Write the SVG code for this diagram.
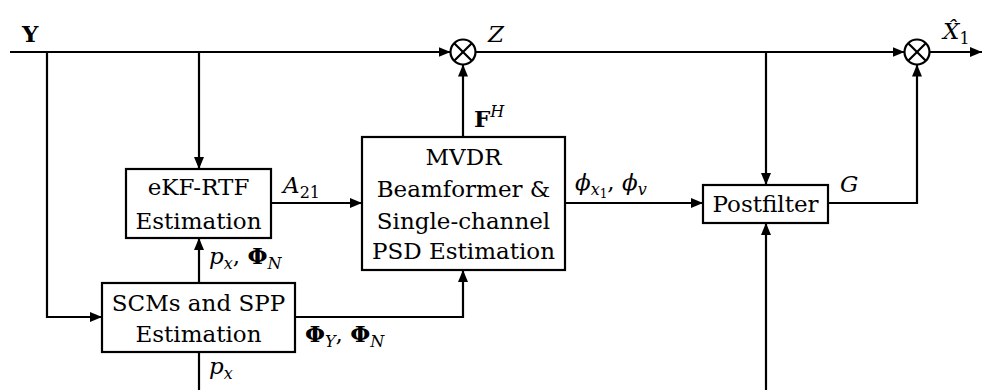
<svg xmlns="http://www.w3.org/2000/svg" width="982" height="390" viewBox="0 0 982 390">
<style>
.ln{fill:none;stroke:#000;stroke-width:2.2}
.box{fill:#fff;stroke:#000;stroke-width:2.2}
.t{font-family:"DejaVu Serif","Liberation Serif",serif;font-size:23px;fill:#000;text-anchor:middle}
.m{font-family:"DejaVu Serif","Liberation Serif",serif;font-size:23px;fill:#000;font-style:italic}
.b{font-style:normal;font-weight:bold}
.s{font-size:16px}
</style>
<defs>
<marker id="ar" markerUnits="userSpaceOnUse" markerWidth="12" markerHeight="10" refX="12" refY="5" orient="auto">
<path d="M0,0 L12,5 L0,10 z" fill="#000"/>
</marker>
</defs>
<g id="connectors">
<path class="ln" d="M10,52 H450.5" marker-end="url(#ar)"/>
<path class="ln" d="M475.5,52 H904.5" marker-end="url(#ar)"/>
<path class="ln" d="M929.5,52 H982" marker-end="url(#ar)"/>
<path class="ln" d="M199,52 V169" marker-end="url(#ar)"/>
<path class="ln" d="M47,52 V317 H102" marker-end="url(#ar)"/>
<path class="ln" d="M199,283 V238" marker-end="url(#ar)"/>
<path class="ln" d="M271,203 H362" marker-end="url(#ar)"/>
<path class="ln" d="M295,317 H463 V270" marker-end="url(#ar)"/>
<path class="ln" d="M463,137 V64.5" marker-end="url(#ar)"/>
<path class="ln" d="M565,203 H703" marker-end="url(#ar)"/>
<path class="ln" d="M766,52 V185" marker-end="url(#ar)"/>
<path class="ln" d="M766,390 V223" marker-end="url(#ar)"/>
<path class="ln" d="M828,203 H917 V64.5" marker-end="url(#ar)"/>
<path class="ln" d="M199,352 V390"/>
</g>
<g id="mult1">
<circle class="box" cx="463" cy="52" r="12.5"/>
<path class="ln" d="M454.2,43.2 L471.8,60.8 M471.8,43.2 L454.2,60.8"/>
</g>
<g id="mult2">
<circle class="box" cx="917" cy="52" r="12.5"/>
<path class="ln" d="M908.2,43.2 L925.8,60.8 M925.8,43.2 L908.2,60.8"/>
</g>
<g id="ekf">
<rect class="box" x="126" y="169" width="145" height="69"/>
<text class="t" x="198.5" y="195">eKF-RTF</text>
<text class="t" x="198.5" y="229">Estimation</text>
</g>
<g id="scm">
<rect class="box" x="102" y="283" width="193" height="69"/>
<text class="t" x="198.5" y="311">SCMs and SPP</text>
<text class="t" x="198.5" y="342">Estimation</text>
</g>
<g id="mvdr">
<rect class="box" x="362" y="137" width="203" height="133"/>
<text class="t" x="463.5" y="165">MVDR</text>
<text class="t" x="463.5" y="197">Beamformer &amp;</text>
<text class="t" x="463.5" y="229">Single-channel</text>
<text class="t" x="463.5" y="259">PSD Estimation</text>
</g>
<g id="postfilter">
<rect class="box" x="703" y="185" width="125" height="38"/>
<text class="t" x="765.5" y="212">Postfilter</text>
</g>
<g id="labels">
<text class="m b" x="22" y="42">Y</text>
<text class="m" x="488" y="42">Z</text>
<text class="m" x="943" y="39">X̂<tspan class="s" dy="5" font-style="normal">1</tspan></text>
<text class="m" x="474" y="127"><tspan class="b">F</tspan><tspan class="s" dy="-10">H</tspan></text>
<text class="m" x="283" y="193">A<tspan class="s" dy="5" font-style="normal">21</tspan></text>
<text class="m" x="575" y="190">ϕ<tspan class="s" dy="5">x</tspan><tspan font-size="12" dy="3" font-style="normal">1</tspan><tspan dy="-8" font-style="normal">, </tspan><tspan>ϕ</tspan><tspan class="s" dy="5">v</tspan></text>
<text class="m" x="840" y="192">G</text>
<text class="m" x="209" y="264">p<tspan class="s" dy="5">x</tspan><tspan dy="-5" font-style="normal">, </tspan><tspan class="b">Φ</tspan><tspan class="s" dy="5">N</tspan></text>
<text class="m" x="305" y="342"><tspan class="b">Φ</tspan><tspan class="s" dy="5">Y</tspan><tspan dy="-5" font-style="normal">, </tspan><tspan class="b">Φ</tspan><tspan class="s" dy="5">N</tspan></text>
<text class="m" x="209" y="374">p<tspan class="s" dy="5">x</tspan></text>
</g>
</svg>
